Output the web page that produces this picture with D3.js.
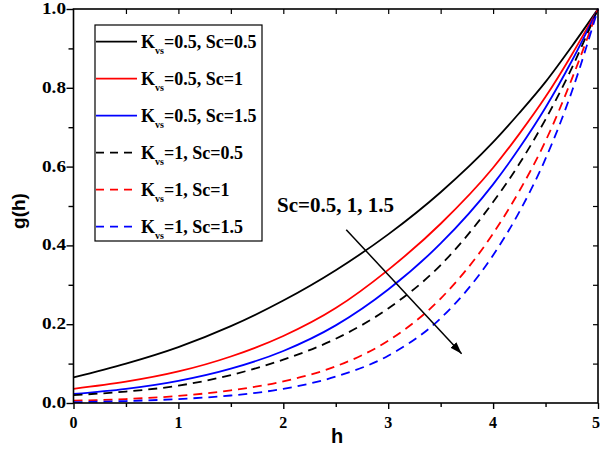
<!DOCTYPE html>
<html>
<head>
<meta charset="utf-8">
<script src="https://cdn.jsdelivr.net/npm/d3@7/dist/d3.min.js"></script>
<style>
  html, body { margin: 0; padding: 0; background: #fff; }
  svg { display: block; }
</style>
</head>
<body>
<svg id="chart" width="600" height="451"></svg>
<script>
// Concentration profile g(h) for several Kvs and Sc values
const hValues = [0, 0.5, 1, 1.5, 2, 2.5, 3, 3.5, 4, 4.25, 4.5, 4.75, 5];

const gK05Sc05 = [0.065, 0.100, 0.142, 0.195, 0.260, 0.337, 0.428, 0.535, 0.662, 0.736, 0.815, 0.905, 1.0];
const gK05Sc1  = [0.036, 0.054, 0.080, 0.118, 0.170, 0.241, 0.338, 0.455, 0.597, 0.683, 0.777, 0.884, 1.0];
const gK05Sc15 = [0.023, 0.036, 0.056, 0.087, 0.132, 0.197, 0.288, 0.405, 0.555, 0.647, 0.750, 0.868, 1.0];
const gK1Sc05  = [0.020, 0.029, 0.044, 0.071, 0.110, 0.163, 0.240, 0.350, 0.510, 0.607, 0.720, 0.850, 1.0];
const gK1Sc1   = [0.006, 0.010, 0.018, 0.032, 0.055, 0.093, 0.158, 0.265, 0.430, 0.538, 0.665, 0.822, 1.0];
const gK1Sc15  = [0.002, 0.005, 0.010, 0.019, 0.036, 0.067, 0.120, 0.215, 0.375, 0.485, 0.620, 0.790, 1.0];

const seriesNames = [
  ["0.5", "0.5"], ["0.5", "1"], ["0.5", "1.5"],
  ["1", "0.5"], ["1", "1"], ["1", "1.5"]
];
const seriesValues = [gK05Sc05, gK05Sc1, gK05Sc15, gK1Sc05, gK1Sc1, gK1Sc15];
const seriesColors = ["#000000", "#ff0000", "#0000ff", "#000000", "#ff0000", "#0000ff"];
const seriesDashed = [false, false, false, true, true, true];

const xTicks = [0, 1, 2, 3, 4, 5];
const yTicks = [0, 0.2, 0.4, 0.6, 0.8, 1.0];
const annotation = "Sc=0.5, 1, 1.5";

const svg = d3.select("#chart");
const x = d3.scaleLinear().domain([0, 5]).range([73.5, 598]);
const y = d3.scaleLinear().domain([0, 1]).range([403, 9]);

const serif = "'Liberation Serif', 'Times New Roman', serif";
const sans = "'Liberation Sans', Arial, sans-serif";

// Curves
const line = d3.line()
  .x((d, i) => x(hValues[i]))
  .y(d => y(d))
  .curve(d3.curveMonotoneX);

const plot = svg.append("g");
seriesValues.forEach((vals, k) => {
  plot.append("path")
    .datum(vals)
    .attr("d", line)
    .attr("fill", "none")
    .attr("stroke", seriesColors[k])
    .attr("stroke-width", 1.8)
    .attr("stroke-dasharray", seriesDashed[k] ? "9,6" : null);
});

// Frame
svg.append("rect")
  .attr("x", x(0)).attr("y", y(1))
  .attr("width", x(5) - x(0)).attr("height", y(0) - y(1))
  .attr("fill", "none").attr("stroke", "#000").attr("stroke-width", 1.6);

// Bottom axis (outward ticks)
const axBottom = svg.append("g").attr("transform", `translate(0,${y(0)})`)
  .call(d3.axisBottom(x).tickValues(d3.range(0, 5.01, 0.5)).tickSize(6).tickFormat(""));
axBottom.select(".domain").remove();
axBottom.selectAll(".tick line").attr("stroke-width", 1.4)
  .attr("y2", d => (Math.abs(d - Math.round(d)) < 1e-6 ? 6 : 4));

// Left axis (outward ticks)
const axLeft = svg.append("g").attr("transform", `translate(${x(0)},0)`)
  .call(d3.axisLeft(y).tickValues(d3.range(0, 1.001, 0.1)).tickSize(6).tickFormat(""));
axLeft.select(".domain").remove();
axLeft.selectAll(".tick line").attr("stroke-width", 1.4)
  .attr("x2", (d, i) => (i % 2 === 0 ? -7 : -5));

// Top axis (inward ticks)
const axTop = svg.append("g").attr("transform", `translate(0,${y(1)})`)
  .call(d3.axisTop(x).tickValues(d3.range(0.5, 4.51, 0.5)).tickSize(-5).tickFormat(""));
axTop.select(".domain").remove();
axTop.selectAll(".tick line").attr("stroke-width", 1.2);

// Right axis (inward ticks)
const axRight = svg.append("g").attr("transform", `translate(${x(5)},0)`)
  .call(d3.axisRight(y).tickValues(d3.range(0.1, 0.95, 0.1)).tickSize(-5).tickFormat(""));
axRight.select(".domain").remove();
axRight.selectAll(".tick line").attr("stroke-width", 1.2);

// Tick labels
svg.append("g").selectAll("text").data(xTicks).join("text")
  .attr("x", d => Math.min(x(d), 596)).attr("y", 428)
  .attr("text-anchor", "middle")
  .attr("font-family", serif).attr("font-weight", "bold").attr("font-size", 16)
  .text(d => d3.format("d")(d));

svg.append("g").selectAll("text").data(yTicks).join("text")
  .attr("transform", d => `translate(66,${y(d) + 5}) scale(1.2,1)`)
  .attr("text-anchor", "end")
  .attr("font-family", serif).attr("font-weight", "bold").attr("font-size", 16)
  .text(d => d3.format(".1f")(d));

// Axis titles
svg.append("text")
  .attr("x", 337).attr("y", 443)
  .attr("text-anchor", "middle")
  .attr("font-family", sans).attr("font-weight", "bold").attr("font-size", 20)
  .text("h");

svg.append("text")
  .attr("transform", "translate(25,211) rotate(-90)")
  .attr("text-anchor", "middle")
  .attr("font-family", sans).attr("font-weight", "bold").attr("font-size", 19)
  .text("g(h)");

// Legend
const legend = svg.append("g");
legend.append("rect")
  .attr("x", 95).attr("y", 25).attr("width", 167).attr("height", 216)
  .attr("fill", "#fff").attr("stroke", "#000").attr("stroke-width", 1.2);

const rowY = d3.scaleLinear().domain([0, 5]).range([41.7, 226.7]);
seriesNames.forEach((nm, k) => {
  const yy = rowY(k);
  legend.append("line")
    .attr("x1", 96).attr("x2", 137).attr("y1", yy).attr("y2", yy)
    .attr("stroke", seriesColors[k]).attr("stroke-width", 1.8)
    .attr("stroke-dasharray", seriesDashed[k] ? "8,6" : null);
  const t = legend.append("text")
    .attr("x", 141).attr("y", yy + 6)
    .attr("font-family", serif).attr("font-weight", "bold").attr("font-size", 18);
  t.append("tspan").text("K");
  t.append("tspan").attr("dx", 0).attr("dy", 6).attr("font-size", 10).text("vs");
  t.append("tspan").attr("dy", -6).text(`=${nm[0]}, Sc=${nm[1]}`);
});

// Annotation with arrow
const defs = svg.append("defs");
defs.append("marker")
  .attr("id", "arrowhead")
  .attr("viewBox", "0 0 12 8").attr("refX", 12).attr("refY", 4)
  .attr("markerWidth", 12).attr("markerHeight", 8)
  .attr("markerUnits", "userSpaceOnUse")
  .attr("orient", "auto")
  .append("path").attr("d", "M0,0 L12,4 L0,8 Z").attr("fill", "#000");

svg.append("text")
  .attr("x", 277).attr("y", 212)
  .attr("font-family", serif).attr("font-weight", "bold").attr("font-size", 21)
  .text(annotation);

svg.append("line")
  .attr("x1", x(2.6)).attr("y1", y(0.44))
  .attr("x2", x(3.7)).attr("y2", y(0.125))
  .attr("stroke", "#000").attr("stroke-width", 1.5)
  .attr("marker-end", "url(#arrowhead)");
</script>
</body>
</html>
